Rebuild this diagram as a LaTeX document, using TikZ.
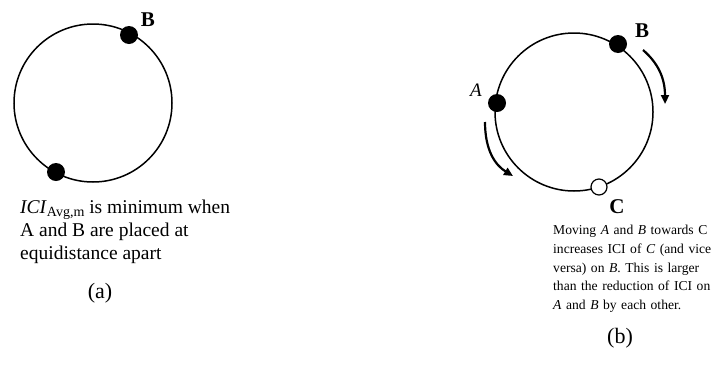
\documentclass[tikz,border=0pt]{standalone}
\usepackage{fontspec}
\setmainfont{Liberation Serif}
\usetikzlibrary{arrows.meta,positioning}

\begin{document}
\begin{tikzpicture}[x=1pt,y=-1pt,
    ring/.style={line width=1.5pt},
    dot/.style={circle,fill=black,inner sep=0pt,minimum size=18pt},
    hole/.style={circle,draw=black,fill=white,line width=1.2pt,inner sep=0pt,minimum size=16pt},
    tag/.style={font=\fontsize{21}{21}\selectfont\bfseries,inner sep=0pt},
    move/.style={-{Triangle[length=9pt,width=8pt]},line width=2.2pt},
    caption/.style={font=\fontsize{22}{22}\selectfont,inner sep=0pt}]
    \useasboundingbox (0,0) rectangle (715,381);

    % (a) : deux points opposés
    \coordinate (Ca) at (93,103);
    \draw[ring] (Ca) circle (79pt);
    \node[dot] (Ba) at (129,35) {};
    \node[dot] (Aa) at (56,172) {};
    \node[tag] (labBa) at (148,20) {B};

    \node[anchor=north west,align=left,inner sep=0pt,
          font=\fontsize{19.5}{23}\selectfont] (texta) at (20,200)
        {\textit{ICI}{\fontsize{14}{14}\selectfont\raisebox{-2.5pt}{Avg,m}} is minimum when\\
         A and B are placed at\\
         equidistance apart};
    \node[caption] (capa) at (100,293) {(a)};

    % (b) : A et B vers C
    \coordinate (Cb) at (574,112);
    \draw[ring] (Cb) circle (79pt);
    \node[dot] (Ab) at (497,103) {};
    \node[dot] (Bb) at (618,44) {};
    \node[hole] (Cc) at (599,187) {};
    \node[font=\fontsize{19}{19}\selectfont\itshape,inner sep=0pt] (labA) at (476,90) {A};
    \node[tag] (labBb) at (642,31) {B};
    \node[tag] (labC) at (617,207) {C};

    % Déplacements
    \coordinate (mB0) at (643,50);
    \coordinate (mB1) at (665,104);
    \coordinate (mA0) at (485,122);
    \coordinate (mA1) at (513,176);
    \draw[move] (mB0) .. controls (658,63) and (665,78) .. (mB1);
    \draw[move] (mA0) .. controls (485,150) and (495,165) .. (mA1);

    \node[anchor=north west,text width=160pt,inner sep=0pt,
          font=\fontsize{13.6}{18.75}\selectfont] (textb) at (553,225)
        {Moving \textit{A} and \textit{B} towards C increases ICI of \textit{C} (and vice versa) on \textit{B}. This is larger than the reduction of ICI on \textit{A} and \textit{B} by each other.};
    \node[caption] (capb) at (620,338) {(b)};
\end{tikzpicture}
\end{document}
